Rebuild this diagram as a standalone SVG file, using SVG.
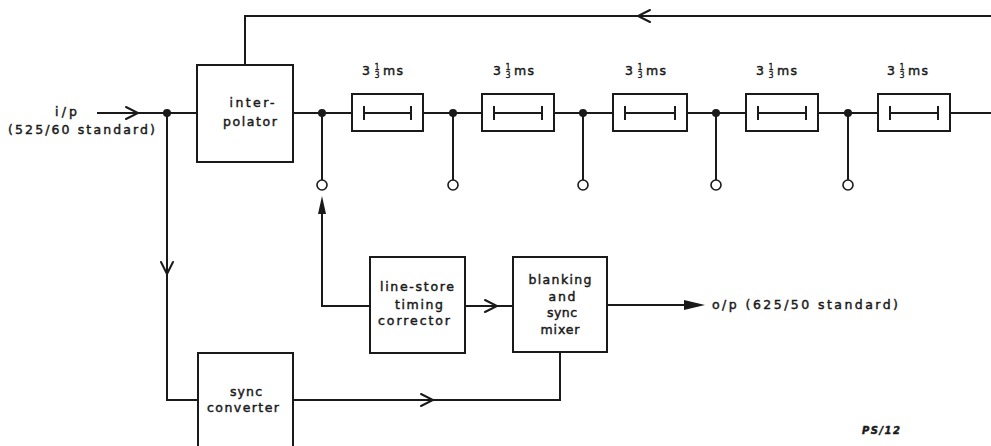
<svg xmlns="http://www.w3.org/2000/svg" width="991" height="446" viewBox="0 0 991 446">
<style>
.b{fill:#fff;stroke:#1a1a1a;stroke-width:2}
.l{fill:none;stroke:#1a1a1a;stroke-width:2;stroke-linecap:square}
.c{fill:none;stroke:#1a1a1a;stroke-width:2;stroke-linejoin:miter;stroke-linecap:round}
.d{fill:#1a1a1a}
.o{fill:#fff;stroke:#1a1a1a;stroke-width:1.6}
text{font-family:"DejaVu Sans","Liberation Sans",sans-serif;font-size:12.5px;fill:#1a1a1a;stroke:#1a1a1a;stroke-width:0.45}
.m{text-anchor:middle}
.f{font-size:8px;stroke-width:0.3}
</style>
<rect width="991" height="446" fill="#fff"/>
<g id="connectors">
  <path class="l" d="M98 113H197"/>
  <path class="c" d="M126 107L138 113L126 119"/>
  <path class="l" d="M167 113V400H198"/>
  <path class="c" d="M161 262L167 274L173 262"/>
  <path class="l" d="M245 65V16H991"/>
  <path class="c" d="M650 10L638 16L650 22"/>
  <path class="l" d="M293 113H352M423 113H482M554 113H613M687 113H746M818 113H878M950 113H991"/>
  <path class="l" d="M322 113V180M453 113V180M583 113V180M716 113V180M848 113V180"/>
  <path class="l" d="M370 306H322V212"/>
  <path class="d" d="M322 196L326 214L318 214Z"/>
  <path class="l" d="M465 306H513"/>
  <path class="c" d="M485 300L497 306L485 312"/>
  <path class="l" d="M293 400H560V352"/>
  <path class="c" d="M421 394L433 400L421 406"/>
  <path class="l" d="M607 305H690"/>
  <path class="d" d="M705 305L684 300L684 310Z"/>
  <circle class="d" cx="167" cy="113" r="4"/>
  <circle class="d" cx="322" cy="113" r="4"/>
  <circle class="d" cx="453" cy="113" r="4"/>
  <circle class="d" cx="583" cy="113" r="4"/>
  <circle class="d" cx="716" cy="113" r="4"/>
  <circle class="d" cx="848" cy="113" r="4"/>
  <circle class="o" cx="322" cy="185" r="5"/>
  <circle class="o" cx="453" cy="185" r="5"/>
  <circle class="o" cx="583" cy="185" r="5"/>
  <circle class="o" cx="716" cy="185" r="5"/>
  <circle class="o" cx="848" cy="185" r="5"/>
</g>
<g id="input-label">
  <text x="66" y="116" class="m" textLength="22" lengthAdjust="spacing">i/p</text>
  <text x="8" y="134" textLength="147" lengthAdjust="spacing">(525/60 standard)</text>
</g>
<g id="interpolator">
  <rect class="b" x="197" y="65" width="96" height="97"/>
  <text x="252" y="107" class="m" textLength="45" lengthAdjust="spacing">inter-</text>
  <text x="250" y="126" class="m" textLength="54" lengthAdjust="spacing">polator</text>
</g>
<g id="delay1">
  <rect class="b" x="352" y="94" width="71" height="37"/>
  <path class="l" d="M364 113H411M364 107V119M411 107V119"/>
  <text x="362" y="75">3</text><text x="377" y="70" class="m f">1</text><text x="377" y="78" class="m f">3</text><text x="383" y="75" textLength="20" lengthAdjust="spacing">ms</text>
</g>
<g id="delay2">
  <rect class="b" x="482" y="94" width="72" height="37"/>
  <path class="l" d="M494 113H542M494 107V119M542 107V119"/>
  <text x="493" y="75">3</text><text x="508" y="70" class="m f">1</text><text x="508" y="78" class="m f">3</text><text x="514" y="75" textLength="20" lengthAdjust="spacing">ms</text>
</g>
<g id="delay3">
  <rect class="b" x="613" y="94" width="74" height="37"/>
  <path class="l" d="M625 113H675M625 107V119M675 107V119"/>
  <text x="625" y="75">3</text><text x="640" y="70" class="m f">1</text><text x="640" y="78" class="m f">3</text><text x="646" y="75" textLength="20" lengthAdjust="spacing">ms</text>
</g>
<g id="delay4">
  <rect class="b" x="746" y="94" width="72" height="37"/>
  <path class="l" d="M758 113H806M758 107V119M806 107V119"/>
  <text x="756" y="75">3</text><text x="771" y="70" class="m f">1</text><text x="771" y="78" class="m f">3</text><text x="777" y="75" textLength="20" lengthAdjust="spacing">ms</text>
</g>
<g id="delay5">
  <rect class="b" x="878" y="94" width="72" height="37"/>
  <path class="l" d="M890 113H938M890 107V119M938 107V119"/>
  <text x="887" y="75">3</text><text x="902" y="70" class="m f">1</text><text x="902" y="78" class="m f">3</text><text x="908" y="75" textLength="20" lengthAdjust="spacing">ms</text>
</g>
<g id="line-store">
  <rect class="b" x="370" y="257" width="95" height="96"/>
  <text x="417" y="291" class="m" textLength="74" lengthAdjust="spacing">line-store</text>
  <text x="419" y="309" class="m" textLength="48" lengthAdjust="spacing">timing</text>
  <text x="414" y="325" class="m" textLength="72" lengthAdjust="spacing">corrector</text>
</g>
<g id="blanking-mixer">
  <rect class="b" x="513" y="257" width="94" height="95"/>
  <text x="560" y="284" class="m" textLength="63" lengthAdjust="spacing">blanking</text>
  <text x="562" y="301" class="m" textLength="27" lengthAdjust="spacing">and</text>
  <text x="562" y="317" class="m" textLength="30" lengthAdjust="spacing">sync</text>
  <text x="560" y="334" class="m" textLength="39" lengthAdjust="spacing">mixer</text>
</g>
<g id="sync-converter">
  <rect class="b" x="198" y="353" width="95" height="100"/>
  <text x="246" y="396" class="m" textLength="32" lengthAdjust="spacing">sync</text>
  <text x="243" y="412" class="m" textLength="72" lengthAdjust="spacing">converter</text>
</g>
<g id="output-label">
  <text x="712" y="309" textLength="186" lengthAdjust="spacing">o/p (625/50 standard)</text>
</g>
<g id="figure-id">
  <text x="862" y="434" textLength="38" lengthAdjust="spacing" style="font-size:10px;font-weight:bold;font-style:italic">PS/12</text>
</g>
</svg>
